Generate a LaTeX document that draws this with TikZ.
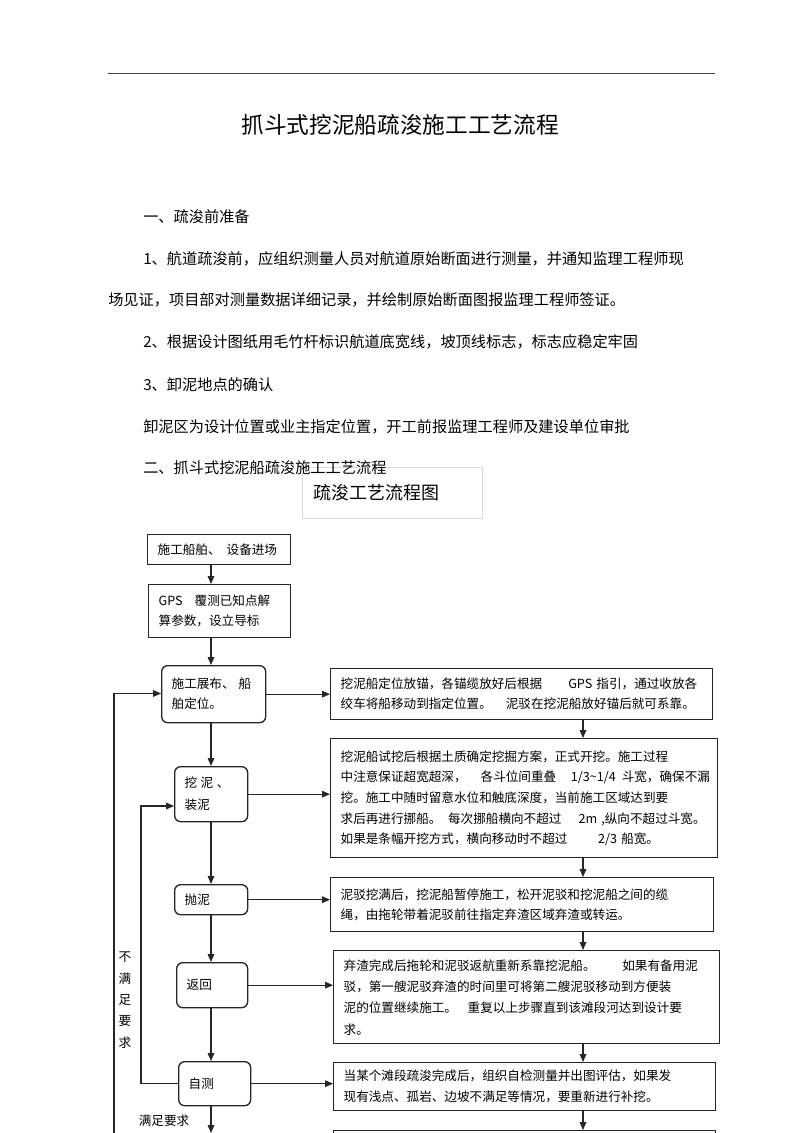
\documentclass[tikz,border=0pt]{standalone}
\usepackage{fontspec}
\setmainfont{Noto Sans CJK SC}
\usetikzlibrary{arrows.meta}
\begin{document}
\begin{tikzpicture}[x=0.75pt,y=-0.75pt,
  bx/.style={draw=black!85, line width=1pt, fill=white, anchor=north west, inner xsep=7.5pt, inner ysep=1pt, align=left, font=\fontsize{9.45}{15}\selectfont},
  rbx/.style={bx, rounded corners=4.5pt},
  arr/.style={draw=black!85, line width=0.8pt, -{Triangle[length=6pt,width=5pt]}},
  body/.style={anchor=west, inner sep=0pt, font=\fontsize{11.4}{14}\selectfont},
]
\useasboundingbox (0,0) rectangle (800,1133);
\fill[white] (0,0) rectangle (800,1133);

% header rule and title
\coordinate (hl) at (108,73);
\coordinate (hr) at (715,73);
\draw[black!75, line width=0.75pt] (hl) -- (hr);
\node[inner sep=0pt, font=\fontsize{17}{20}\selectfont] (title) at (400,125) {抓斗式挖泥船疏浚施工工艺流程};

% caption box (drawn before the text that overlaps it)
\node[draw=black!15, line width=0.75pt, anchor=north west, minimum width=135pt, minimum height=38.25pt, text width=126pt, inner xsep=4.5pt, inner ysep=0pt, align=left, font=\fontsize{13.5}{16}\selectfont] (cap) at (302,467) {\kern4pt 疏浚工艺流程图};

% body text
\node[body] (t1) at (143,217) {一、疏浚前准备};
\node[body] (t2) at (143,259) {1、航道疏浚前，应组织测量人员对航道原始断面进行测量，并通知监理工程师现};
\node[body] (t3) at (108,300) {场见证，项目部对测量数据详细记录，并绘制原始断面图报监理工程师签证。};
\node[body] (t4) at (143,342) {2、根据设计图纸用毛竹杆标识航道底宽线，坡顶线标志，标志应稳定牢固};
\node[body] (t5) at (143,385) {3、卸泥地点的确认};
\node[body] (t6) at (143,427) {卸泥区为设计位置或业主指定位置，开工前报监理工程师及建设单位审批};
\node[body] (t7) at (143,468) {二、抓斗式挖泥船疏浚施工工艺流程};

% left column
\node[bx, minimum width=107.25pt, minimum height=22.5pt, text width=92.25pt] (b1) at (147,534) {施工船舶、\kern4.5pt 设备进场};
\node[bx, minimum width=106.5pt, minimum height=39.75pt, text width=91.5pt] (b2) at (148,584) {GPS\kern9pt 覆测已知点解\\算参数，设立导标};
\node[rbx, minimum width=78pt, minimum height=42.75pt, text width=63pt] (b3) at (161,665) {施工展布、\kern3pt 船\\舶定位。};
\node[rbx, minimum width=54.75pt, minimum height=41.25pt, text width=39.75pt, font=\fontsize{9.45}{16.5}\selectfont] (b4) at (174,766) {挖\kern2.6pt 泥\kern2.6pt 、\\装泥};
\node[rbx, minimum width=54.75pt, minimum height=22.5pt, text width=39.75pt] (b5) at (174,884) {抛泥};
\node[rbx, minimum width=53.25pt, minimum height=33.75pt, text width=38.25pt] (b6) at (176,962) {返回};
\node[rbx, minimum width=54pt, minimum height=33pt, text width=39pt] (b7) at (178,1061) {自测};

% right column
\node[bx, minimum width=286.5pt, minimum height=38.25pt, text width=271.5pt] (r1) at (330,668) {挖泥船定位放锚，各锚缆放好后根据\kern19.5pt GPS~指引，通过收放各\\绞车将船移动到指定位置。\kern10.5pt 泥驳在挖泥船放好锚后就可系靠。};
\node[bx, minimum width=290.25pt, minimum height=89.25pt, text width=275.25pt, font=\fontsize{9.45}{15.5}\selectfont] (r2) at (330,738) {挖泥船试挖后根据土质确定挖掘方案，正式开挖。施工过程\\中注意保证超宽超深，\kern10.5pt 各斗位间重叠\kern11pt 1/3\textasciitilde 1/4\kern4.5pt 斗宽，确保不漏\\挖。施工中随时留意水位和触底深度，当前施工区域达到要\\求后再进行挪船。\kern5pt 每次挪船横向不超过\kern12.75pt 2m~,纵向不超过斗宽。\\如果是条幅开挖方式，横向移动时不超过\kern23pt 2/3~船宽。};
\node[bx, minimum width=287.25pt, minimum height=40.5pt, text width=272.25pt] (r3) at (330,877) {泥驳挖满后，挖泥船暂停施工，松开泥驳和挖泥船之间的缆\\绳，由拖轮带着泥驳前往指定弃渣区域弃渣或转运。};
\node[bx, minimum width=289.5pt, minimum height=69.75pt, text width=274.5pt, font=\fontsize{9.45}{16}\selectfont] (r4) at (333,950) {弃渣完成后拖轮和泥驳返航重新系靠挖泥船。\kern20pt 如果有备用泥\\驳，第一艘泥驳弃渣的时间里可将第二艘泥驳移动到方便装\\泥的位置继续施工。\kern8pt 重复以上步骤直到该滩段河达到设计要\\求。};
\node[bx, minimum width=286.5pt, minimum height=36pt, text width=271.5pt, font=\fontsize{9.45}{15.75}\selectfont] (r5) at (333,1062) {当某个滩段疏浚完成后，组织自检测量并出图评估，如果发\\现有浅点、孤岩、边坡不满足等情况，要重新进行补挖。};
\node[bx, minimum width=286.5pt, minimum height=45pt] (r6) at (333,1130) {};

% labels
\node[inner sep=0pt, align=center, font=\fontsize{9.45}{16}\selectfont] (nm) at (125,1000) {不\\满\\足\\要\\求};
\node[inner sep=0pt, font=\fontsize{9.45}{12}\selectfont] (mz) at (164,1121) {满足要求};

% connectors
\coordinate (cx) at (211,0);
\coordinate (rx) at (583,0);
\coordinate (cb) at (211,1133);
\draw[arr] (b1.south -| cx) -- (b2.north -| cx);
\draw[arr] (b2.south -| cx) -- (b3.north -| cx);
\draw[arr] (b3.south -| cx) -- (b4.north -| cx);
\draw[arr] (b4.south -| cx) -- (b5.north -| cx);
\draw[arr] (b5.south -| cx) -- (b6.north -| cx);
\draw[arr] (b6.south -| cx) -- (b7.north -| cx);
\draw[arr] (b7.south -| cx) -- (cb);

\draw[arr] (b3.east) -- (b3.east -| r1.west);
\draw[arr] (b4.east) -- (b4.east -| r2.west);
\draw[arr] (b5.east) -- (b5.east -| r3.west);
\draw[arr] (b6.east) -- (b6.east -| r4.west);
\draw[arr] (b7.east) -- (b7.east -| r5.west);

\draw[arr] (r1.south -| rx) -- (r2.north -| rx);
\draw[arr] (r2.south -| rx) -- (r3.north -| rx);
\draw[arr] (r3.south -| rx) -- (r4.north -| rx);
\draw[arr] (r4.south -| rx) -- (r5.north -| rx);
\draw[arr] (r5.south -| rx) -- (r6.north -| rx);

\coordinate (inL) at (141,806);
\draw[arr] (b7.west) -| (inL) -- (inL -| b4.west);
\coordinate (outB) at (114,1140);
\coordinate (outT) at (114,693.5);
\draw[arr] (outB) -- (outT) -- (outT -| b3.west);
\end{tikzpicture}
\end{document}
